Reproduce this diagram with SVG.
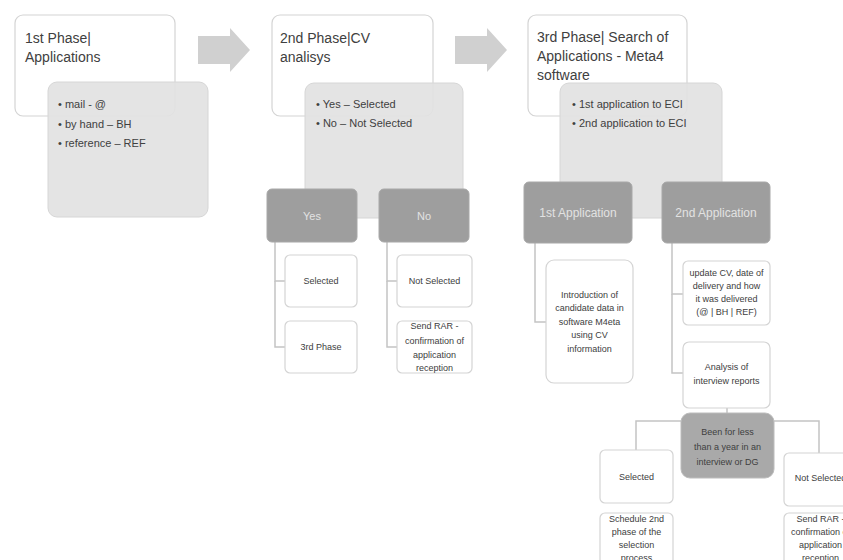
<svg xmlns="http://www.w3.org/2000/svg" width="843" height="560" viewBox="0 0 843 560">
<style>
text{font-family:"Liberation Sans",Arial,sans-serif;fill:#404040}
.hdr{font-size:14px}
.bul{font-size:11px}
.sm{font-size:9px;text-anchor:middle}
.dk{font-size:12px;text-anchor:middle;fill:#e2e2e2}
.wbox{fill:#ffffff;stroke:#d4d4d4;stroke-width:1.2}
.gbox{fill:#e2e2e2;fill-opacity:0.92;stroke:#d6d6d6;stroke-width:1}
.dbox{fill:#9e9e9e;stroke:#a8a8a8;stroke-width:1}
.decision{fill:#a9a9a9;stroke:#bcbcbc;stroke-width:1}
.arrow{fill:#d0d0d0}
.conn{fill:none;stroke:#c4c4c4;stroke-width:1.5}
</style>
<rect width="843" height="560" fill="#ffffff"/>

<g id="arrows">
<polygon class="arrow" points="198,36 230,36 230,28 250,50 230,72 230,64 198,64"/>
<polygon class="arrow" points="455,36 487,36 487,28 507,50 487,72 487,64 455,64"/>
</g>

<g id="connectors">
<polyline class="conn" points="275,242 275,281 285,281"/>
<polyline class="conn" points="275,281 275,347 285,347"/>
<polyline class="conn" points="387,242 387,281 397,281"/>
<polyline class="conn" points="387,281 387,347 397,347"/>
<polyline class="conn" points="535,243 535,322 546,322"/>
<polyline class="conn" points="672,243 672,294 683,294"/>
<polyline class="conn" points="672,294 672,373 683,373"/>
<line class="conn" x1="727" y1="408" x2="727" y2="413"/>
<polyline class="conn" points="681,421 636,421 636,450"/>
<polyline class="conn" points="774,421 819,421 819,453"/>
</g>

<g id="phase1">
<rect class="wbox" x="15" y="15" width="160" height="101" rx="8"/>
<text class="hdr" x="25" y="43">1st Phase|</text>
<text class="hdr" x="25" y="62">Applications</text>
</g>
<g id="phase1-list">
<rect class="gbox" x="48" y="82" width="160" height="135" rx="9"/>
<text class="bul" x="58" y="108">• mail - @</text>
<text class="bul" x="58" y="128">• by hand – BH</text>
<text class="bul" x="58" y="147">• reference – REF</text>
</g>

<g id="phase2">
<rect class="wbox" x="272" y="15" width="161" height="101" rx="8"/>
<text class="hdr" x="280" y="43">2nd Phase|CV</text>
<text class="hdr" x="280" y="62">analisys</text>
</g>
<g id="phase2-list">
<rect class="gbox" x="305" y="83" width="158" height="135" rx="9"/>
<text class="bul" x="316" y="108">• Yes – Selected</text>
<text class="bul" x="316" y="127">• No – Not Selected</text>
</g>

<g id="phase3">
<rect class="wbox" x="528" y="15" width="159" height="101" rx="8"/>
<text class="hdr" x="537" y="42">3rd Phase| Search of</text>
<text class="hdr" x="537" y="61">Applications - Meta4</text>
<text class="hdr" x="537" y="80">software</text>
</g>
<g id="phase3-list">
<rect class="gbox" x="560" y="83" width="162" height="135" rx="9"/>
<text class="bul" x="572" y="108">• 1st application to ECI</text>
<text class="bul" x="572" y="127">• 2nd application to ECI</text>
</g>

<g id="yes">
<rect class="dbox" x="267" y="189" width="90" height="53" rx="5"/>
<text class="dk" x="312" y="220" style="font-size:11px">Yes</text>
</g>
<g id="no">
<rect class="dbox" x="379" y="189" width="90" height="53" rx="5"/>
<text class="dk" x="424" y="220" style="font-size:11px">No</text>
</g>
<g id="yes-selected">
<rect class="wbox" x="285" y="255" width="72" height="52" rx="5"/>
<text class="sm" x="321" y="284">Selected</text>
</g>
<g id="yes-3rd-phase">
<rect class="wbox" x="285" y="321" width="72" height="52" rx="5"/>
<text class="sm" x="321" y="350">3rd Phase</text>
</g>
<g id="no-not-selected">
<rect class="wbox" x="397" y="255" width="75" height="52" rx="5"/>
<text class="sm" x="434.5" y="284">Not Selected</text>
</g>
<g id="no-send-rar">
<rect class="wbox" x="397" y="321" width="75" height="52" rx="5"/>
<text class="sm" x="434.5" y="329">Send RAR -</text>
<text class="sm" x="434.5" y="344">confirmation of</text>
<text class="sm" x="434.5" y="358">application</text>
<text class="sm" x="434.5" y="371">reception</text>
</g>

<g id="first-application">
<rect class="dbox" x="524" y="182" width="108" height="61" rx="5"/>
<text class="dk" x="578" y="217">1st Application</text>
</g>
<g id="second-application">
<rect class="dbox" x="662" y="182" width="108" height="61" rx="5"/>
<text class="dk" x="716" y="217">2nd Application</text>
</g>
<g id="introduction">
<rect class="wbox" x="546" y="260" width="87" height="123" rx="8"/>
<text class="sm" x="589.5" y="298">Introduction of</text>
<text class="sm" x="589.5" y="311">candidate data in</text>
<text class="sm" x="589.5" y="325">software M4eta</text>
<text class="sm" x="589.5" y="338">using CV</text>
<text class="sm" x="589.5" y="352">information</text>
</g>
<g id="update-cv">
<rect class="wbox" x="683" y="261" width="87" height="64" rx="5"/>
<text class="sm" x="726.5" y="276">update CV, date of</text>
<text class="sm" x="726.5" y="289">delivery and how</text>
<text class="sm" x="726.5" y="302">it was delivered</text>
<text class="sm" x="726.5" y="315">(@ | BH | REF)</text>
</g>
<g id="analysis">
<rect class="wbox" x="683" y="342" width="87" height="66" rx="6"/>
<text class="sm" x="726.5" y="370">Analysis of</text>
<text class="sm" x="726.5" y="384">interview reports</text>
</g>
<g id="decision">
<rect class="decision" x="681" y="413" width="93" height="65" rx="9"/>
<text class="sm" x="727.5" y="435">Been for less</text>
<text class="sm" x="727.5" y="450">than a year in an</text>
<text class="sm" x="727.5" y="465">interview or DG</text>
</g>
<g id="selected">
<rect class="wbox" x="600" y="450" width="73" height="53" rx="5"/>
<text class="sm" x="636.5" y="480">Selected</text>
</g>
<g id="schedule">
<rect class="wbox" x="600" y="513" width="73" height="60" rx="5"/>
<text class="sm" x="636.5" y="522">Schedule 2nd</text>
<text class="sm" x="636.5" y="535">phase of the</text>
<text class="sm" x="636.5" y="548">selection</text>
<text class="sm" x="636.5" y="561">process</text>
</g>
<g id="not-selected">
<rect class="wbox" x="784" y="453" width="73" height="53" rx="5"/>
<text class="sm" x="820.5" y="481">Not Selected</text>
</g>
<g id="send-rar">
<rect class="wbox" x="784" y="513" width="73" height="60" rx="5"/>
<text class="sm" x="820.5" y="522">Send RAR -</text>
<text class="sm" x="820.5" y="535">confirmation of</text>
<text class="sm" x="820.5" y="548">application</text>
<text class="sm" x="820.5" y="561">reception</text>
</g>
</svg>
